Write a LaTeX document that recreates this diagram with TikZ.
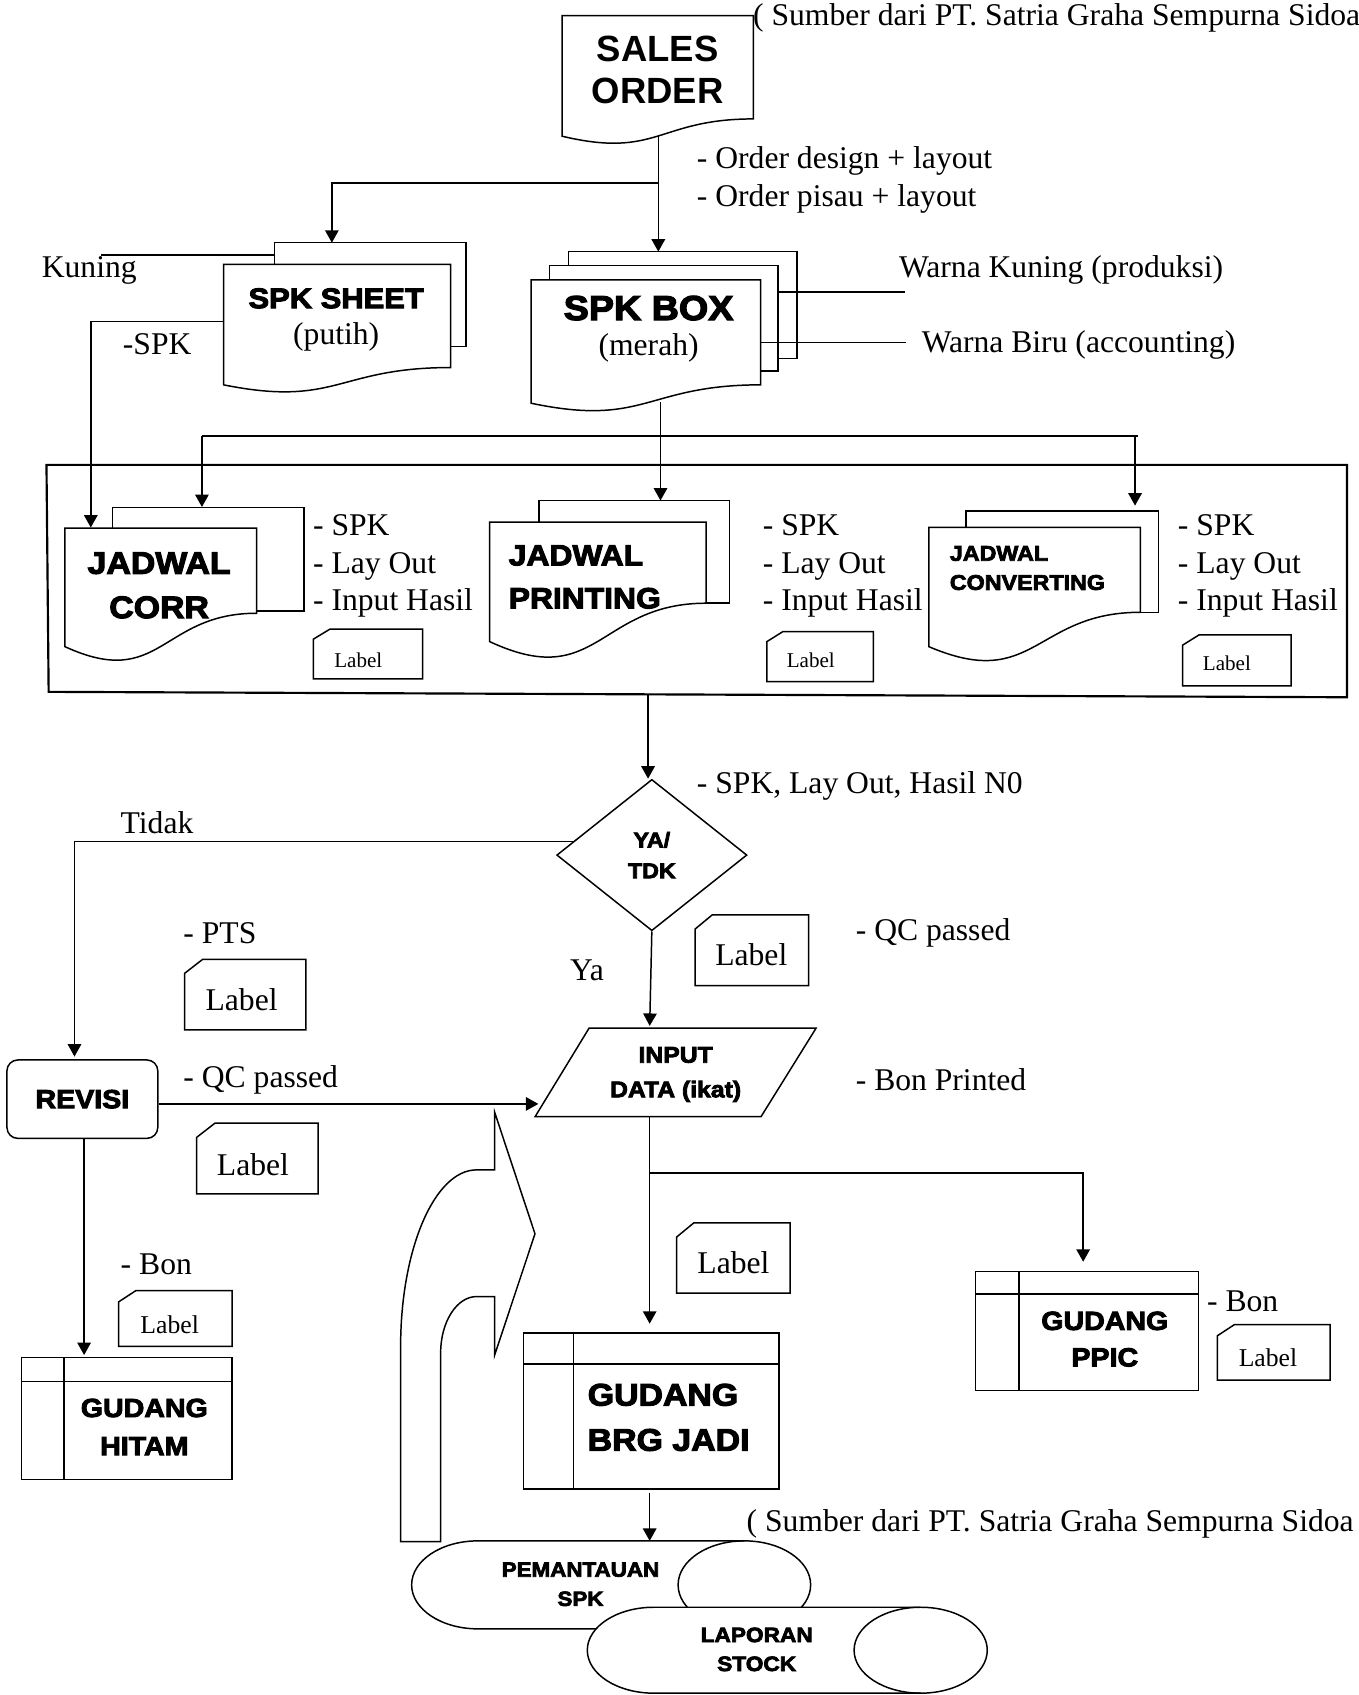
\documentclass[tikz,border=0pt]{standalone}
\usepackage{fontspec}
\setmainfont{Liberation Serif}
\newfontfamily\sansbold{Liberation Sans}[UprightFont={* Bold}]
\newfontfamily\sansblack{Liberation Sans}[UprightFont={* Bold},FakeBold=3.5,FakeStretch=1.09]
\usetikzlibrary{arrows.meta,shapes.geometric,calc}

\tikzset{every picture/.style={line width=0.55pt}}
\tikzset{>={Triangle[length=4.6pt,width=5pt]}}

% document shape: x left, x right, y top, y of right end, y of left end
\newcommand\docshape[5]{%
  \draw (#1,#3) -- (#2,#3) -- (#2,#4) .. controls ({(#1+#2)/2},#4) and ({(#1+#2)/2},{#4+2.316*(#5-#4)}) .. (#1,#5) -- cycle;}
% punched card: x1, y1, x2, y2
\newcommand\cardshape[4]{%
  \draw ({#1+0.15*(#3-#1)},#2) -- (#3,#2) -- (#3,#4) -- (#1,#4) -- (#1,{#2+0.2*(#4-#2)}) -- cycle;}
% internal storage: x1, y1, x2, y2, inner x, inner y
\newcommand\storeshape[6]{%
  \draw (#1,#2) rectangle (#3,#4);
  \draw (#5,#2) -- (#5,#4);
  \draw (#1,#6) -- (#3,#6);}

\begin{document}
\begin{tikzpicture}[x=0.4pt,y=0.4pt,yscale=-1,xscale=1,
  txt/.style={font=\fontsize{11.7}{13.8}\selectfont, inner sep=0pt, align=left},
  lbl/.style={font=\fontsize{#1}{#1}\selectfont, inner sep=0pt},
  sb/.style 2 args={font=\sansbold\fontsize{#1}{#2}\selectfont, inner sep=0pt, align=center},
  hv/.style 2 args={font=\sansblack\fontsize{#1}{#2}\selectfont, inner sep=0pt, align=center}]
\useasboundingbox (0,0) rectangle (1257,1568);

%Shape: Document [sales order]
\docshape{520}{697}{14.5}{110}{126}
% Text Node
\draw (608.5,64.5) node [sb={13.5}{15.6}] (so) {SALES\\ORDER};
% Text Node
\draw (696,24) node [anchor=base west][txt] (src1) {( Sumber dari PT. Satria Graha Sempurna Sidoa};
% Text Node
\draw (644,149) node [anchor=west][txt] (ord1) {- Order design + layout};
% Text Node
\draw (644,184) node [anchor=west][txt] (ord2) {- Order pisau + layout};

%Shape: Multidocument [spk sheet]
\draw (254,244.6) |- (431,224.5) |- (416.8,320.7);
\docshape{206.8}{416.8}{244.6}{340}{356}
% Text Node
\draw (311,276) node [hv={10.5}{12}] (sheet) {SPK SHEET};
% Text Node
\draw (311,312) node [txt] (sheet2) {(putih)};

%Shape: Multidocument [spk box]
\draw (525.8,245.7) |- (737.4,232.8) |- (719.7,331.4);
\draw (508.2,259) |- (719.7,245.7) |- (703.7,343.2);
\docshape{491.3}{703.7}{259}{356}{373}
% Text Node
\draw (600,285) node [hv={12.8}{14}] (box) {SPK BOX};
% Text Node
\draw (600,322) node [txt] (box2) {(merah)};

% Text Node
\draw (38,250) node [anchor=west][txt] (kuning) {Kuning};
% Text Node
\draw (113,318) node [anchor=west][txt] (spk) {-SPK};
% Text Node
\draw (831,250) node [anchor=west][txt] (wkuning) {Warna Kuning (produksi)};
% Text Node
\draw (852,319) node [anchor=west][txt] (wbiru) {Warna Biru (accounting)};

%Straight Lines
\coordinate (so-b) at (609,126);
\coordinate (br1) at (609,169.3);
\coordinate (box-in) at (609,232.8);
\coordinate (sheet-in) at (307,224.5);
\draw [->] (so-b) -- (box-in);
\draw [->] (br1) -| (sheet-in);
\coordinate (kuning-a) at (93.7,236);
\coordinate (sheet-back) at (254,236);
\draw (kuning-a) -- (sheet-back);
\coordinate (sheet-l) at (206.8,297.5);
\coordinate (corr-in) at (84,488);
\draw [->] (sheet-l) -| (corr-in);
\coordinate (box-mid) at (719.7,270);
\coordinate (wkuning-a) at (837,270);
\draw (box-mid) -- (wkuning-a);
\coordinate (box-front) at (703.7,316.7);
\coordinate (wbiru-a) at (838,316.7);
\draw (box-front) -- (wbiru-a);

%Straight Lines [distribution]
\coordinate (box-b) at (611,372);
\coordinate (print-in) at (611,463);
\draw [->] (box-b) -- (print-in);
\coordinate (dist-l) at (186.8,403.3);
\coordinate (dist-r) at (1050,403.3);
\coordinate (dist-end) at (1052.5,403.3);
\coordinate (corrb-in) at (186.8,469);
\coordinate (conv-in) at (1050,467.7);
\draw (dist-l) -- (dist-end);
\draw [->] (dist-l) -- (corrb-in);
\draw [->] (dist-r) -- (conv-in);

%Shape: Rectangle [jadwal group]
\draw [line width=0.8pt] (43,430) -- (1246,430) -- (1246,645) -- (45,640) -- cycle;

%Shape: Multidocument [jadwal corr]
\draw (104.2,488.5) |- (281.4,469.6) |- (237.3,565.2);
\docshape{60.1}{237.3}{488.5}{567.3}{598.2}
% Text Node
\draw (147.2,541.5) node [hv={11.5}{16.4}] (corr) {JADWAL\\CORR};
% Text Node
\draw (289,523.5) node [anchor=west][txt] (corr-n) {- SPK\\- Lay Out\\- Input Hasil};
%Shape: Card
\cardshape{290}{582}{391}{628}
% Text Node
\draw (331.5,610.5) node [lbl=7.8] (corr-c) {Label};

%Shape: Multidocument [jadwal printing]
\draw (498.6,483.1) |- (674.9,463.1) |- (653.3,558);
\docshape{452.9}{653.3}{483.1}{558}{593.5}
% Text Node
\draw (470,533.7) node [anchor=west][hv={10.8}{15.9}, align=left] (print) {JADWAL\\PRINTING};
% Text Node
\draw (705,523.5) node [anchor=west][txt] (print-n) {- SPK\\- Lay Out\\- Input Hasil};
%Shape: Card
\cardshape{709.4}{584.3}{808}{630.5}
% Text Node
\draw (750,611) node [lbl=7.8] (print-c) {Label};

%Shape: Multidocument [jadwal converting]
\draw (893.7,487.8) |- (1071.7,472.7) |- (1054.9,566.4);
\docshape{859.3}{1054.9}{487.8}{566.4}{598.2}
% Text Node
\draw (878,525.5) node [anchor=west][hv={7.9}{10.8}, align=left] (conv) {JADWAL\\CONVERTING};
% Text Node
\draw (1089,523.5) node [anchor=west][txt] (conv-n) {- SPK\\- Lay Out\\- Input Hasil};
%Shape: Card
\cardshape{1094}{587.4}{1194.3}{634.5}
% Text Node
\draw (1135,614) node [lbl=7.8] (conv-c) {Label};

%Shape: Diamond
\node [diamond, draw, minimum width=70.4pt, minimum height=56pt, inner sep=0pt][hv={7.9}{11.4}] (dec) at (603,791) {YA/\\TDK};
\coordinate (cont-b) at (599.5,642);
\draw [->] (cont-b) -- (cont-b |- dec.north);
% Text Node
\draw (644,727) node [anchor=west][txt] (dec-n) {- SPK, Lay Out, Hasil N0};
% Text Node
\draw (111,761) node [anchor=west][txt] (tidak) {Tidak};
% Text Node
\draw (543,898) node [txt] (ya) {Ya};

%Shape: Rounded Rect
\node [draw, rounded corners=4pt, minimum width=55.8pt, minimum height=29pt][hv={9.7}{12}] (rev) at (76.2,1016.8) {REVISI};
\coordinate (tdk) at ($(dec.west)!0.18!(dec.north)$);
\coordinate (rev-in) at (68.9,977.4);
\draw [->] (tdk) -| (rev-in);

%Shape: Parallelogram
\draw (545,951) -- (755,951) -- (704,1033) -- (495,1033) -- cycle;
% Text Node
\draw (625,994) node [hv={8.4}{12.8}] (inp) {INPUT\\DATA (ikat)};
\coordinate (inp-in) at (601,949);
\draw [->] (dec.south) -- (inp-in);
\coordinate (inp-l) at (498,1021.2);
\draw [->] (rev.east |- inp-l) -- (inp-l);

% Text Node
\draw (791,863) node [anchor=west][txt] (qc1) {- QC passed};
% Text Node
\draw (791,999) node [anchor=west][txt] (bonp) {- Bon Printed};
% Text Node
\draw (169,863) node [anchor=west][txt] (pts) {- PTS};
% Text Node
\draw (169,999) node [anchor=west][txt] (qc2) {- QC passed};
% Text Node
\draw (111,1170) node [anchor=west][txt] (bon1) {- Bon};
% Text Node
\draw (1116,1204) node [anchor=west][txt] (bon2) {- Bon};

%Shape: Card
\cardshape{643}{846.4}{748}{911.7}
\draw (695,883) node [lbl=11.7] (dec-c) {Label};
\cardshape{170.7}{887.4}{283}{952.7}
\draw (223.5,925) node [lbl=11.7] (pts-c) {Label};
\cardshape{182}{1039}{294.2}{1104.4}
\draw (234,1077) node [lbl=11.7] (qc-c) {Label};
\cardshape{626}{1131.3}{731}{1196.2}
\draw (678.5,1168) node [lbl=11.7] (inp-c) {Label};
\cardshape{109.8}{1194}{214.8}{1245.4}
\draw (157,1225) node [lbl=9.5] (bon1-c) {Label};
\cardshape{1126.2}{1225.4}{1230.4}{1276.6}
\draw (1173,1256) node [lbl=9.5] (bon2-c) {Label};

%Shape: Internal Storage [gudang hitam]
\storeshape{20}{1256}{214.8}{1368.5}{59.3}{1277.9}
\draw (133.5,1320) node [hv={9.7}{14.1}] (hitam) {GUDANG\\HITAM};
\coordinate (hitam-in) at (77.8,1253.5);
\draw [->] (rev.south -| hitam-in) -- (hitam-in);

%Shape: Internal Storage [gudang brg jadi]
\storeshape{484.1}{1233.2}{720.6}{1377.2}{530.7}{1261.8}
\draw (543,1311.2) node [anchor=west][hv={11.5}{16.7}, align=left] (brg) {GUDANG\\BRG JADI};
\coordinate (inp-b) at (601,1033);
\coordinate (brg-in) at (601,1224.5);
\draw [->] (inp-b) -- (brg-in);

%Shape: Internal Storage [gudang ppic]
\storeshape{902.5}{1176.3}{1108.5}{1286.2}{942.6}{1197.1}
\draw (1022,1238.8) node [hv={9.7}{13.5}] (ppic) {GUDANG\\PPIC};
\coordinate (br2) at (601,1085.3);
\coordinate (ppic-in) at (1002,1167.2);
\draw [->] (br2) -| (ppic-in);

%Shape: U-Turn Arrow
\draw (457.6,1028.9) -- (457.6,1082.2) -- (440.9,1082.2)
  arc [start angle=270, end angle=180, x radius=70.3, y radius=163.5]
  -- (370.6,1426) -- (407.6,1426) -- (407.6,1251.8)
  arc [start angle=180, end angle=270, x radius=33.3, y radius=52.4]
  -- (457.6,1199.4) -- (457.6,1253.4) -- (494.9,1141.4) -- cycle;

%Shape: Direct Access Storage [pemantauan]
\draw [fill=white] (442.1,1425.4) -- (688.6,1425.4)
  arc [start angle=270, end angle=450, x radius=61.3, y radius=40.7]
  -- (442.1,1506.8) arc [start angle=90, end angle=270, x radius=61.3, y radius=40.7] -- cycle;
\draw (688.6,1425.4) arc [start angle=270, end angle=90, x radius=61.3, y radius=40.7];
\draw (537,1465.6) node [hv={7.6}{10.8}] (pem) {PEMANTAUAN\\SPK};
\coordinate (brg-b) at (601,1381);
\coordinate (pem-in) at (601,1425.4);
\draw [->] (brg-b) -- (pem-in);

%Shape: Direct Access Storage [laporan]
\draw [fill=white] (604.9,1486.8) -- (851.7,1486.8)
  arc [start angle=270, end angle=450, x radius=61.6, y radius=39.75]
  -- (604.9,1566.3) arc [start angle=90, end angle=270, x radius=61.6, y radius=39.75] -- cycle;
\draw (851.7,1486.8) arc [start angle=270, end angle=90, x radius=61.6, y radius=39.75];
\draw (700,1525.8) node [hv={7.7}{10.7}] (lap) {LAPORAN\\STOCK};

% Text Node
\draw (690,1417) node [anchor=base west][txt] (src2) {( Sumber dari PT. Satria Graha Sempurna Sidoa};
\end{tikzpicture}
\end{document}
